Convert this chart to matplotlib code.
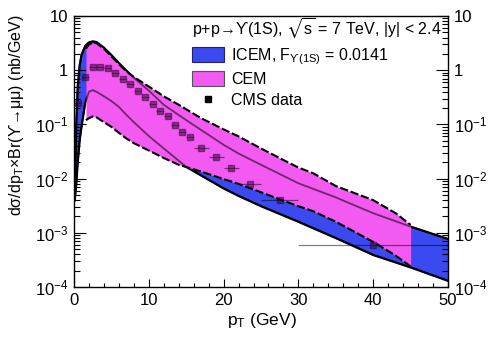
import numpy as np
import matplotlib
matplotlib.use("Agg")
import matplotlib.pyplot as plt
from matplotlib.patches import Patch
from matplotlib.lines import Line2D
from matplotlib.ticker import LogLocator, FuncFormatter, MultipleLocator, NullFormatter

plt.rcParams['font.family'] = ['Liberation Sans', 'DejaVu Sans']
plt.rcParams['mathtext.fontset'] = 'custom'
plt.rcParams['mathtext.rm'] = 'Liberation Sans'
plt.rcParams['mathtext.it'] = 'Liberation Sans:italic'
plt.rcParams['mathtext.bf'] = 'Liberation Sans:bold'
plt.rcParams['mathtext.fallback'] = 'stixsans'

# ---------------- data ----------------
icem_pt = [0.1, 0.3, 0.5, 0.75, 1.0, 1.5, 2.0, 2.5, 3.0, 4, 5, 6, 7, 8, 10, 12, 15, 18, 20, 22, 25, 30, 35, 40, 45, 50]
icem_hi = [0.004, 0.1, 0.5, 1.2, 1.9, 2.8, 3.25, 3.4, 3.3, 2.6, 1.9, 1.35, 0.98, 0.72, 0.42, 0.23, 0.12, 0.064, 0.042, 0.029, 0.018, 0.0082, 0.0045, 0.0023, 0.0013, 0.00077]
icem_lo = [0.004, 0.008, 0.02, 0.05, 0.09, 0.25, 0.40, 0.43, 0.40, 0.33, 0.27, 0.21, 0.15, 0.11, 0.061, 0.036, 0.0165, 0.0095, 0.0066, 0.0048, 0.0031, 0.0016, 0.0008, 0.00039, 0.00023, 0.00013]

cem_pt = [1.6, 2.0, 2.5, 3.0, 4, 5, 6, 7, 8, 10, 12, 14, 17, 20, 22, 25, 28, 30, 32, 35, 40, 43, 45]
cem_hi = [2.5, 3.0, 3.2, 3.15, 2.5, 1.8, 1.3, 0.95, 0.75, 0.50, 0.33, 0.23, 0.13, 0.081, 0.06, 0.036, 0.022, 0.016, 0.0125, 0.0073, 0.0040, 0.0023, 0.0014]
cem_lo = [0.12, 0.13, 0.14, 0.135, 0.11, 0.09, 0.07, 0.055, 0.045, 0.033, 0.024, 0.018, 0.0135, 0.0098, 0.0080, 0.0056, 0.0039, 0.0031, 0.0025, 0.0016, 0.00068, 0.00038, 0.00024]

cms_pt = [0.5, 1.5, 2.5, 3.5, 4.5, 5.5, 6.5, 7.5, 8.5, 9.5, 10.5, 11.5, 12.5, 13.5, 14.5, 15.5, 17, 19, 21, 23.5, 27.5, 40]
cms_xerr = [0.5] * 16 + [1, 1, 1, 1.5, 2.5, 10]
cms_val = [0.25, 0.75, 1.15, 1.17, 1.08, 0.89, 0.68, 0.55, 0.41, 0.32, 0.24, 0.18, 0.143, 0.098, 0.072, 0.058, 0.036, 0.025, 0.016, 0.0079, 0.0041, 0.0006]

x_ticks = [0, 10, 20, 30, 40, 50]

# ---------------- figure ----------------
W, H = 498, 338
fig = plt.figure(figsize=(W / 100, H / 100), dpi=100)
ax = fig.add_axes([74 / W, 1 - 287 / H, (448 - 74) / W, (287 - 16) / H])

blue = '#3a4af0'
mag = '#f25af2'

ax.fill_between(icem_pt, icem_lo, icem_hi, color=blue, lw=0, zorder=1)
ax.plot(icem_pt, icem_hi, color='black', lw=1.6, zorder=2)
ax.plot(icem_pt, icem_lo, color='black', lw=1.6, zorder=2)
ax.fill_between(cem_pt, cem_lo, cem_hi, color=mag, lw=0, zorder=3)
# ICEM edges and data seen through the CEM band
ax.plot(icem_pt, icem_hi, color='black', lw=1.3, alpha=0.55, zorder=4)
ax.plot(icem_pt, icem_lo, color='black', lw=1.3, alpha=0.55, zorder=4)
ax.plot(cem_pt, cem_hi, color='black', lw=1.5, ls=(0, (4, 1.3)), zorder=5)
ax.plot(cem_pt, cem_lo, color='black', lw=1.5, ls=(0, (4, 1.3)), zorder=5)
ax.errorbar(cms_pt, cms_val, xerr=cms_xerr, fmt='s', ms=4, color='#300030',
            ecolor='black', elinewidth=0.9, capsize=0, alpha=0.5, zorder=6)

ax.set_yscale('log')
ax.set_xlim(0, 50)
ax.set_ylim(1e-4, 10)

def yfmt(v, pos):
    e = int(round(np.log10(v)))
    if e == 1:
        return '10'
    if e == 0:
        return '1'
    return r'$\mathregular{10^{%d}}$' % e

ax.yaxis.set_major_locator(LogLocator(base=10, numticks=10))
ax.yaxis.set_minor_locator(LogLocator(base=10, subs=np.arange(2, 10), numticks=20))
ax.yaxis.set_major_formatter(FuncFormatter(yfmt))
ax.yaxis.set_minor_formatter(NullFormatter())
ax.set_xticks(x_ticks)
ax.xaxis.set_minor_locator(MultipleLocator(2))

ax.tick_params(axis='y', which='both', direction='in', left=True, right=True,
               labelleft=True, labelright=True, labelsize=12, pad=2.5)
ax.tick_params(axis='y', which='major', length=8.6, width=0.8)
ax.tick_params(axis='y', which='minor', length=4.3, width=0.8)
ax.tick_params(axis='y', which='major', labelright=True, pad=4)
ax.tick_params(axis='x', which='both', direction='in', top=False, bottom=True,
               labelsize=12, pad=4)
ax.tick_params(axis='x', which='major', length=6, width=0.8)
ax.tick_params(axis='x', which='minor', length=3, width=0.8)
for s in ax.spines.values():
    s.set_linewidth(1.0)

fig.text(297 / W, 1 - 325 / H, r'p$_{\mathregular{T}}$ (GeV)', ha='right', va='baseline', fontsize=12.5)
fig.text(17 / W, 1 - 14 / H, r'd$\mathregular{\sigma}$/dp$_{\mathregular{T}}$×Br(ϒ→μμ) (nb/GeV)',
         rotation=90, ha='center', va='top', fontsize=11.5)

handles = [Patch(facecolor=blue, edgecolor='#222266', lw=0.8),
           Patch(facecolor=mag, edgecolor='#555555', lw=0.8),
           Line2D([], [], ls='none', marker='s', ms=4.5, color='black')]
labels = [r'ICEM, F$_{\mathregular{ϒ(1S)}}$ = 0.0141', 'CEM', 'CMS data']
leg = ax.legend(handles, labels, loc='upper left', bbox_to_anchor=(192 / W, 1 - 17 / H),
                bbox_transform=fig.transFigure, frameon=False, fontsize=11.5,
                title=r'p+p→ϒ(1S), $\mathregular{\sqrt{s}}$ = 7 TeV, |y| < 2.4',
                title_fontsize=11.5, alignment='left', borderpad=0, handlelength=2.0,
                handleheight=1.05, handletextpad=0.45, labelspacing=0.3, borderaxespad=0)

fig.savefig('out.png', dpi=100)
